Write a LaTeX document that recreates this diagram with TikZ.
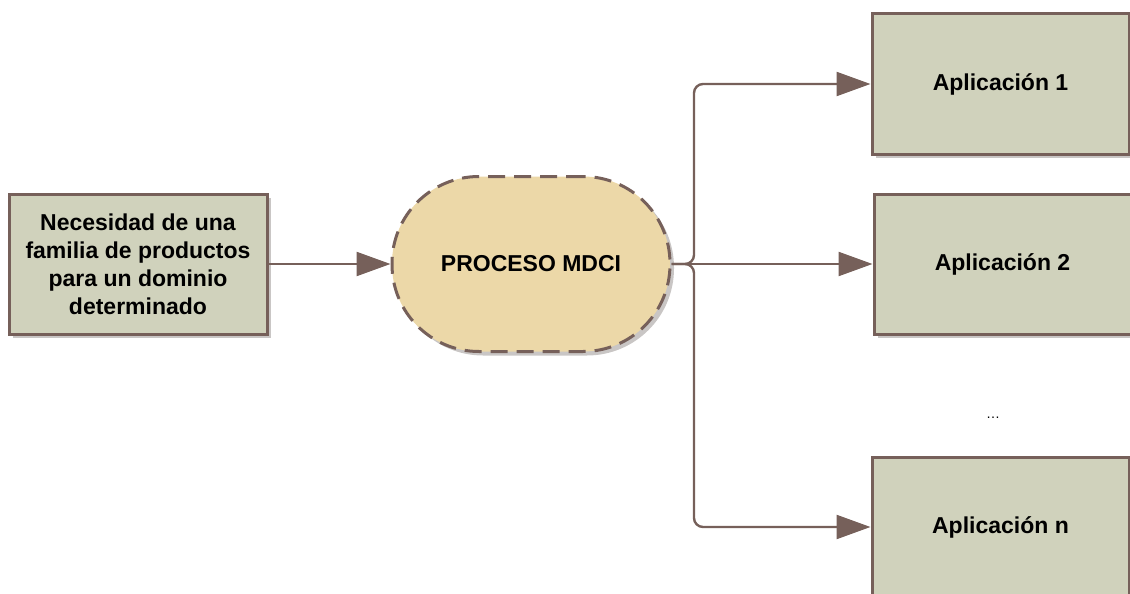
\documentclass[tikz,border=0pt]{standalone}
\usepackage{fontspec}
\setmainfont{Liberation Sans}
\usetikzlibrary{shadows,arrows.meta}
\definecolor{edge}{HTML}{76605A}
\definecolor{boxfill}{HTML}{D0D2BC}
\definecolor{procfill}{HTML}{ECD8A8}
\definecolor{shadowc}{HTML}{C9C6C5}
\begin{document}
\begin{tikzpicture}[x=1pt,y=-1pt,
  sh/.style={drop shadow={shadow xshift=4pt,shadow yshift=-4pt,fill=shadowc,opacity=1}},
  appbox/.style={draw=edge,line width=3pt,fill=boxfill,sh,minimum width=257pt,minimum height=140pt,inner sep=0pt,
    font=\fontsize{23}{28}\selectfont\bfseries,align=center},
  procbox/.style={draw=edge,line width=3pt,fill=procfill,sh,minimum width=278pt,minimum height=175pt,inner sep=0pt,
    rounded corners=87pt,dash pattern=on 17pt off 9pt,font=\fontsize{23}{28}\selectfont\bfseries},
  conn/.style={draw=edge,line width=2.4pt,rounded corners=9pt,-{Triangle[length=34pt,width=24pt]}}
]
\useasboundingbox (0,0) rectangle (1130,594);
\node[appbox,minimum width=258pt] (need) at (138,264) {Necesidad de una\\familia de productos\\para un dominio\\determinado};
\node[procbox] (proc) at (531,264) {PROCESO MDCI};
\node[appbox] (app1) at (1000.5,84) {Aplicación 1};
\node[appbox] (app2) at (1002.5,264) {Aplicación 2};
\node[appbox] (appn) at (1000.5,527) {Aplicación n};
\node[font=\fontsize{14}{16}\selectfont] (dots) at (993,418) {…};
\coordinate (j) at (694,264);
\draw[conn] (need.east) -- (proc.west);
\draw[conn] (proc.east) -- (j) |- (app1.west);
\draw[conn] (proc.east) -- (app2.west);
\draw[conn] (proc.east) -- (j) |- (appn.west);
\end{tikzpicture}
\end{document}
